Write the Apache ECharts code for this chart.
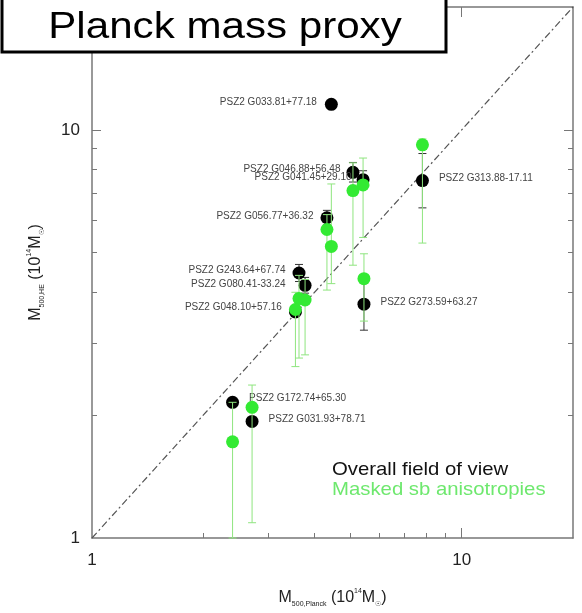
<!DOCTYPE html>
<html>
<head>
<meta charset="utf-8">
<script src="https://cdn.jsdelivr.net/npm/echarts@6/dist/echarts.min.js"></script>
<style>html,body{margin:0;padding:0;background:#fff}#c{width:582px;height:613px}</style>
</head>
<body>
<div id="c"></div>
<script>
// ---- data ----
const clusterNames = ['PSZ2 G033.81+77.18','PSZ2 G046.88+56.48','PSZ2 G041.45+29.10','PSZ2 G056.77+36.32',
  'PSZ2 G243.64+67.74','PSZ2 G080.41-33.24','PSZ2 G048.10+57.16','PSZ2 G273.59+63.27',
  'PSZ2 G313.88-17.11','PSZ2 G172.74+65.30','PSZ2 G031.93+78.71'];
const mPlanck      = [4.44, 5.08, 5.41, 4.32, 3.63, 3.77, 3.55, 5.44, 7.83, 2.40, 2.71];
const mOverall     = [11.55, 7.87, 7.55, 6.09, 4.46, 4.16, 3.58, 3.74, 7.51, 2.15, 1.93];
const mOverallLo   = [11.55, 7.45, 7.18, 5.85, 4.25, 3.98, 3.58, 3.23, 6.44, 2.15, 1.93];
const mOverallHi   = [11.55, 8.32, 7.94, 6.35, 4.68, 4.35, 3.58, 4.33, 8.75, 2.15, 1.93];
const mMasked      = [5.18, 7.10, 7.33, 5.70, 3.86, 3.83, 3.63, 4.32, 9.19, 1.72, 2.09];
const mMaskedLo    = [4.20, 4.66, 5.45, 4.05, 2.76, 2.81, 2.63, 3.40, 5.28, 1.00, 1.09];
const mMaskedHi    = [7.37, 8.30, 8.53, 6.20, 4.40, 4.30, 4.00, 4.97, 9.50, 2.15, 2.37];
const labelSide    = ['left','left','left','left','left','left','left','right','right','right','right'];
const xTickLabels  = [1, 10];
const yTickLabels  = [1, 10];
const minorTicks   = [2, 3, 4, 5, 6, 7, 8, 9];
const majorTicks   = [10];
const axisRange    = [1, 20];
const legendTexts  = ['Overall field of view', 'Masked sb anisotropies'];
const titleText    = 'Planck mass proxy';

// ---- chart ----
const FONT = 'Liberation Sans, Arial, Helvetica, sans-serif';
const labelDist = [8, 6, 5, 7, 7, 13, 7, 10, 10, 10, 10];
const labelOff  = [[0,-2],[0,-3],[0,-2],[0,-2],[0,-3],[0,-1],[0,-5],[0,-2],[0,-2],[0,-4],[0,-2]];

const overallData = mPlanck.map((x, i) => ({
  value: [x, mOverall[i]], name: clusterNames[i],
  label: { show: true, position: labelSide[i], distance: labelDist[i], offset: labelOff[i],
    formatter: clusterNames[i], fontSize: 10, color: '#444', fontFamily: FONT }
}));
const maskedData = mPlanck.map((x, i) => [x, mMasked[i]]);
const overallErr = mPlanck.map((x, i) => [x, mOverallLo[i], mOverallHi[i]]);
const maskedErr  = mPlanck.map((x, i) => [x, mMaskedLo[i], mMaskedHi[i]]);

function errRender(color) {
  return function (params, api) {
    const x = api.value(0), lo = api.value(1), hi = api.value(2);
    if (lo === hi) return null;
    const a = api.coord([x, lo]), b = api.coord([x, hi]);
    const c = 4;
    const st = { stroke: color, lineWidth: 1 };
    return { type: 'group', children: [
      { type: 'line', shape: { x1: a[0], y1: a[1], x2: b[0], y2: b[1] }, style: st },
      { type: 'line', shape: { x1: a[0]-c, y1: a[1], x2: a[0]+c, y2: a[1] }, style: st },
      { type: 'line', shape: { x1: b[0]-c, y1: b[1], x2: b[0]+c, y2: b[1] }, style: st }
    ]};
  };
}

function xAx(pos, ticks, len, showLine, labels) {
  return {
    type: 'log', logBase: 10, min: axisRange[0], max: axisRange[1], position: pos,
    axisLine: { show: showLine, lineStyle: { color: '#777', width: 1.5 } },
    axisTick: { show: true, inside: true, length: len, customValues: ticks, lineStyle: { color: '#777', width: 1 } },
    axisLabel: labels ? { show: true, customValues: labels, margin: 14, fontSize: 17, color: '#222', fontFamily: FONT } : { show: false },
    splitLine: { show: false }, minorTick: { show: false }
  };
}

const xName = '{m|M}{s|500,Planck}{m| (10}{p|14}{m|M}{s|☉}{m|)}';
const yName = '{m|M}{s|500,HE}{m| (10}{p|14}{m|M}{s|☉}{m|)}';
const nameRich = {
  m: { fontSize: 16, color: '#222', fontFamily: FONT, lineHeight: 20, verticalAlign: 'middle' },
  s: { fontSize: 7, color: '#222', fontFamily: FONT, lineHeight: 20, verticalAlign: 'bottom', padding: [0,0,0,0] },
  p: { fontSize: 7, color: '#222', fontFamily: FONT, lineHeight: 20, verticalAlign: 'top' }
};

const xAxes = [
  Object.assign(xAx('bottom', minorTicks, 5, true, xTickLabels), { name: xName, nameLocation: 'middle', nameGap: 50, nameTextStyle: { rich: nameRich } }),
  xAx('top', minorTicks, 5, true, null),
  xAx('bottom', majorTicks, 10, false, null),
  xAx('top', majorTicks, 10, false, null)
];
const yAxes = [
  Object.assign(xAx('left', minorTicks, 5, true, yTickLabels), { name: yName, nameLocation: 'middle', nameGap: 46, nameRotate: 90, nameTextStyle: { rich: nameRich } }),
  xAx('right', minorTicks, 5, true, null),
  xAx('left', majorTicks, 9, false, null),
  xAx('right', majorTicks, 9, false, null)
];
yAxes[0].axisLabel.margin = 12;

const chart = echarts.init(document.getElementById('c'), null, { renderer: 'canvas' });
chart.setOption({
  animation: false,
  backgroundColor: '#fff',
  grid: { left: 92, top: 7, right: 9, bottom: 74 },
  xAxis: xAxes,
  yAxis: yAxes,
  series: [
    { type: 'line', data: [[axisRange[0], axisRange[0]], [axisRange[1], axisRange[1]]], symbol: 'none', silent: true,
      lineStyle: { color: '#555', width: 1.2, type: [7, 3, 2, 3] }, z: 1 },
    { type: 'custom', renderItem: errRender('#333'), data: overallErr, encode: { x: 0, y: [1, 2] }, z: 2 },
    { type: 'scatter', data: overallData, symbolSize: 13, itemStyle: { color: '#000', opacity: 1 }, z: 3 },
    { type: 'custom', renderItem: errRender('#8fe57f'), data: maskedErr, encode: { x: 0, y: [1, 2] }, z: 4 },
    { type: 'scatter', data: maskedData, symbolSize: 13, itemStyle: { color: '#33ea33', opacity: 1 }, z: 5 }
  ],
  graphic: [
    { type: 'text', x: 332, y: 470, scaleX: 1.07, style: { text: legendTexts[0], fontSize: 19, fontFamily: FONT, fill: '#111', textAlign: 'left', textVerticalAlign: 'middle' }, z: 50 },
    { type: 'text', x: 332, y: 490, scaleX: 1.07, style: { text: legendTexts[1], fontSize: 19, fontFamily: FONT, fill: '#6ee86e', textAlign: 'left', textVerticalAlign: 'middle' }, z: 50 },
    { type: 'rect', shape: { x: 2, y: -5, width: 444, height: 57 }, style: { fill: '#fff', stroke: '#000', lineWidth: 3 }, z: 100 },
    { type: 'text', x: 225, y: 28, scaleX: 1.17, style: { text: titleText, fontSize: 36, fontFamily: FONT, fill: '#000', textAlign: 'center', textVerticalAlign: 'middle' }, z: 101 }
  ]
});
</script>
</body>
</html>
